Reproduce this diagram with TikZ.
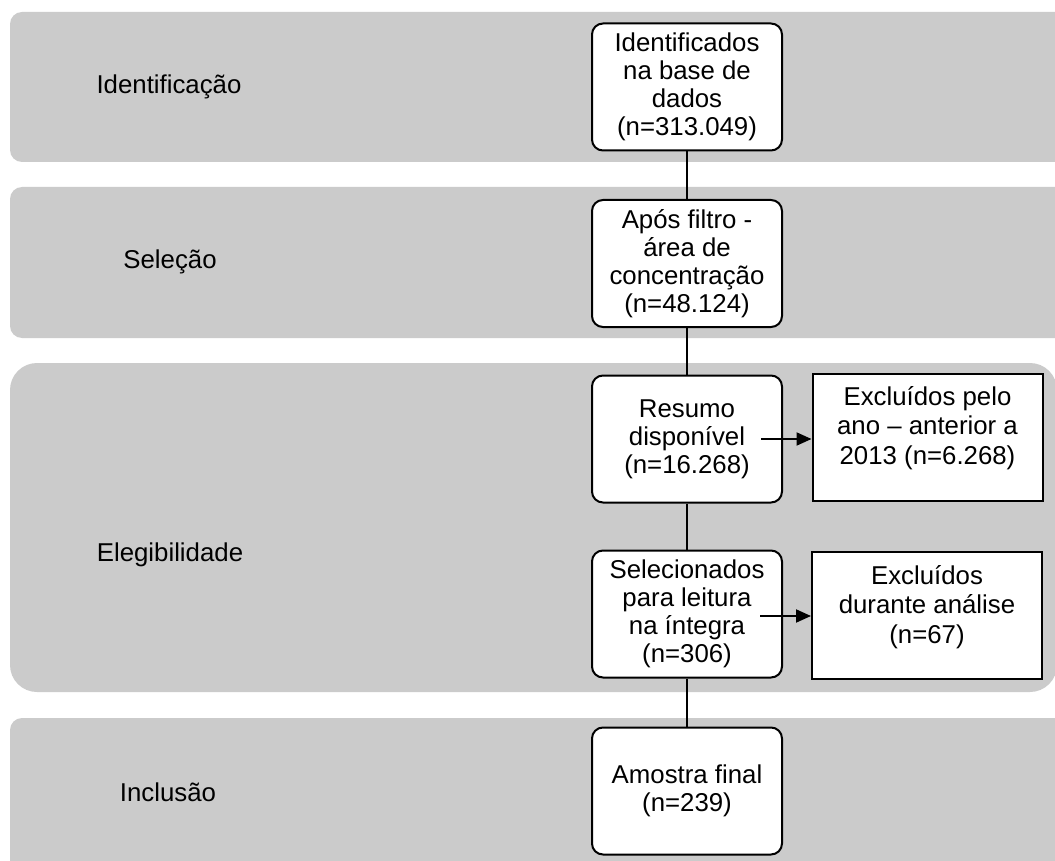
\documentclass[tikz,border=0pt]{standalone}
\usepackage{fontspec}
\setmainfont{Liberation Sans}
\usetikzlibrary{arrows.meta,calc}
\definecolor{bandgray}{HTML}{CBCBCB}
\begin{document}
\begin{tikzpicture}[x=1pt,y=-1pt,
  band/.style={fill=bandgray,draw=none},
  bandlabel/.style={font=\fontsize{25.8}{28.5}\selectfont,anchor=center},
  flowbox/.style={draw=black,line width=2pt,fill=white,rounded corners=11pt,
    minimum width=190pt,minimum height=127pt,inner sep=0pt,align=center,
    font=\fontsize{25.8}{28}\selectfont},
  exclbox/.style={draw=black,line width=2pt,fill=white,
    minimum width=230pt,minimum height=127pt,inner sep=0pt},
  boxtext/.style={align=center,font=\fontsize{25.8}{29.5}\selectfont},
  link/.style={line width=2pt,draw=black},
  arr/.style={line width=2pt,draw=black,-{Triangle[length=15pt,width=13pt]}}]
\useasboundingbox (0,0) rectangle (1055,861);
\begin{scope}
\clip (0,0) rectangle (1055,861);
\fill[band,rounded corners=12pt] (10,12) rectangle (1080,162);
\fill[band,rounded corners=12pt] (10,187) rectangle (1080,338);
\fill[band,rounded corners=27pt] (10,363) rectangle (1057,692);
\fill[band,rounded corners=12pt] (10,718) rectangle (1080,880);
\end{scope}
\node[bandlabel] (lid) at (169,87) {Identificação};
\node[bandlabel] (lsel) at (170,262) {Seleção};
\node[bandlabel] (leleg) at (170,555) {Elegibilidade};
\node[bandlabel] (linc) at (168,792) {Inclusão};
% main boxes
\node[flowbox] (b1) at (687,87) {Identificados\\na base de\\dados\\(n=313.049)};
\node[flowbox] (b2) at (687,263.5) {Após filtro -\\área de\\concentração\\(n=48.124)};
\node[flowbox] (b3) at (687,439) {Resumo\\disponível\\(n=16.268)};
\node[flowbox] (b4) at (687,614) {Selecionados\\para leitura\\na íntegra\\(n=306)};
\node[flowbox] (b5) at (687,791) {Amostra final\\(n=239)};
% exclusion boxes
\node[exclbox] (e1) at (927.5,437) {};
\node[boxtext] (e1t) at (927.5,428) {Excluídos pelo\\ano – anterior a\\2013 (n=6.268)};
\node[exclbox] (e2) at (927,615.5) {};
\node[boxtext] (e2t) at (927,607) {Excluídos\\durante análise\\(n=67)};
% connectors
\draw[link] (b1.south) -- (b2.north);
\draw[link] (b2.south) -- (b3.north);
\draw[link] (b3.south) -- (b4.north);
\draw[link] (b4.south) -- (b5.north);
\coordinate (a1) at ($(b3.east)+(-22,0)$);
\coordinate (a2) at ($(b4.east)+(-23,2)$);
\draw[arr] (a1) -- (e1.west |- a1);
\draw[arr] (a2) -- (e2.west |- a2);
\end{tikzpicture}
\end{document}
